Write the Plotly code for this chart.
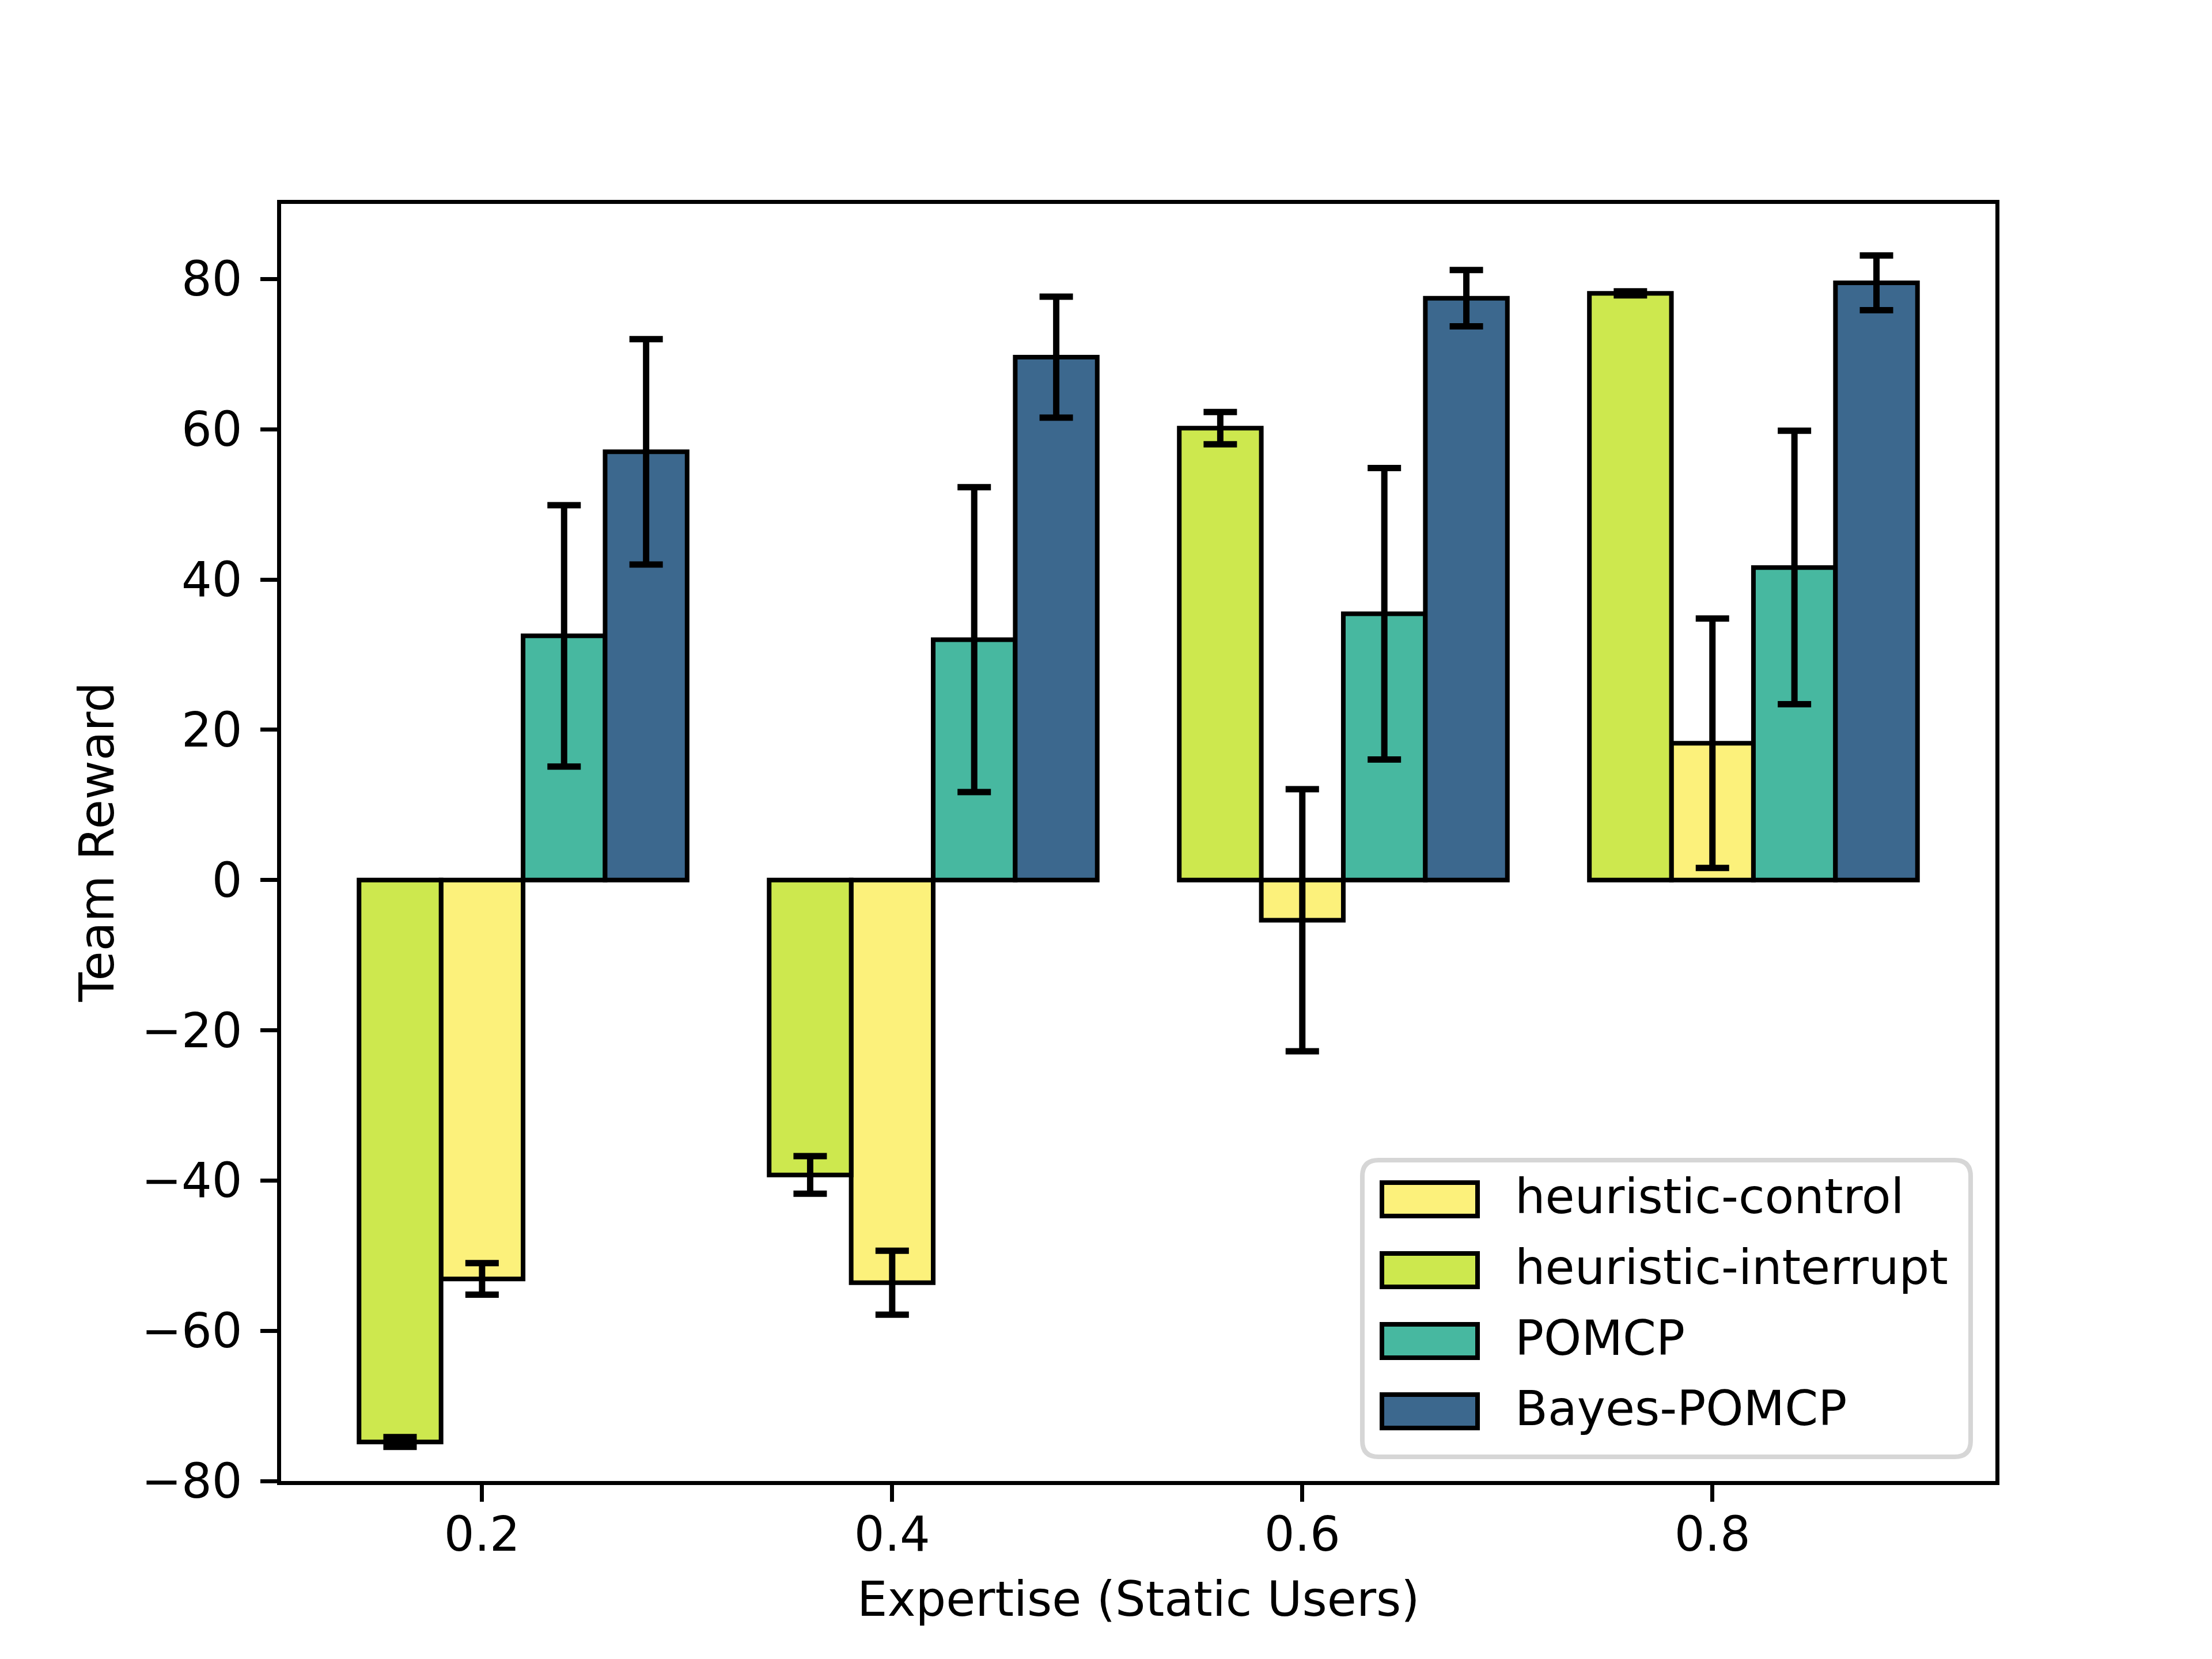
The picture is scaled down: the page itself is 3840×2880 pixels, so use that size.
import plotly.graph_objects as go

# ---------------- data ----------------
expertise = [0.2, 0.4, 0.6, 0.8]
x_tick_labels = ["0.2", "0.4", "0.6", "0.8"]
y_tick_vals = [-80, -60, -40, -20, 0, 20, 40, 60, 80]
y_tick_labels = ["\u221280", "\u221260", "\u221240", "\u221220", "0", "20", "40", "60", "80"]

series_names = ["heuristic-control", "heuristic-interrupt", "POMCP", "Bayes-POMCP"]

control_mean = [-53.1, -53.6, -5.35, 18.2]
control_err = [2.1, 4.26, 17.45, 16.6]
interrupt_mean = [-74.8, -39.26, 60.15, 78.1]
interrupt_err = [0.65, 2.5, 2.15, 0.27]
pomcp_mean = [32.5, 32.0, 35.45, 41.6]
pomcp_err = [17.4, 20.3, 19.4, 18.2]
bayes_mean = [57.0, 69.6, 77.45, 79.5]
bayes_err = [15.0, 8.05, 3.75, 3.64]

# ---------------- style ----------------
colors = ["#fcf17b", "#cde84e", "#47b8a0", "#3c688e"]
offsets = [0.0, -0.04, 0.04, 0.08]
bar_width = 0.04

means = [control_mean, interrupt_mean, pomcp_mean, bayes_mean]
errs = [control_err, interrupt_err, pomcp_err, bayes_err]

W, H = 3840, 2880
L, R, T, B = 480, 384, 346, 317
PW, PH = W - L - R, H - T - B
FS = 83
FONT = "DejaVu Sans"

def px(xp):
    return (xp - L) / PW

def py(yp):
    return (H - B - yp) / PH

fig = go.Figure()
for name, m, e, c, off in zip(series_names, means, errs, colors, offsets):
    fig.add_trace(go.Bar(
        x=[g + off for g in expertise],
        y=m,
        width=bar_width,
        name=name,
        marker=dict(color=c, line=dict(color="black", width=8)),
        error_y=dict(type="data", array=e, visible=True, color="black",
                     thickness=11, width=29),
        showlegend=False,
    ))

# ---------------- legend (drawn manually for matplotlib-like size) ----------------
shapes = []
annotations = []
lx0, ly0, lx1, ly1, rad = 2357, 2006, 3413, 2521, 28
rx, ry = rad / PW, rad / PH
X0, X1, Y0, Y1 = px(lx0), px(lx1), py(ly0), py(ly1)  # Y0 top, Y1 bottom
path = (f"M {X0+rx},{Y0} L {X1-rx},{Y0} Q {X1},{Y0} {X1},{Y0-ry} "
        f"L {X1},{Y1+ry} Q {X1},{Y1} {X1-rx},{Y1} "
        f"L {X0+rx},{Y1} Q {X0},{Y1} {X0},{Y1+ry} "
        f"L {X0},{Y0-ry} Q {X0},{Y0} {X0+rx},{Y0} Z")
shapes.append(dict(type="path", xref="paper", yref="paper", path=path,
                   fillcolor="rgba(255,255,255,0.8)",
                   line=dict(color="#d6d6d6", width=8), layer="above"))
row_centers = [2074, 2197, 2320, 2442]
for name, c, yc in zip(series_names, colors, row_centers):
    shapes.append(dict(type="rect", xref="paper", yref="paper",
                       x0=px(2391), x1=px(2557), y0=py(yc - 29), y1=py(yc + 29),
                       fillcolor=c, line=dict(color="black", width=8), layer="above"))
    annotations.append(dict(text=name, xref="paper", yref="paper",
                            x=px(2620), y=py(yc - 5), xanchor="left", yanchor="middle",
                            showarrow=False, font=dict(family=FONT, size=FS, color="black")))

# axis titles
annotations.append(dict(text="Expertise (Static Users)", xref="paper", yref="paper",
                        x=0.5, y=py(2768), xanchor="center", yanchor="middle",
                        showarrow=False, font=dict(family=FONT, size=FS, color="black")))
annotations.append(dict(text="Team Reward", xref="paper", yref="paper",
                        x=px(160), y=py(1454), xanchor="center", yanchor="middle",
                        textangle=-90, showarrow=False,
                        font=dict(family=FONT, size=FS, color="black")))

fig.update_layout(
    width=W, height=H,
    margin=dict(l=L, r=R, t=T, b=B, autoexpand=False),
    paper_bgcolor="white", plot_bgcolor="white",
    barmode="overlay",
    font=dict(family=FONT, size=FS, color="black"),
    shapes=shapes, annotations=annotations,
    showlegend=False,
)
fig.update_xaxes(
    range=[0.102, 0.938], tickvals=expertise, ticktext=x_tick_labels,
    showline=True, mirror=True, linecolor="black", linewidth=6.67,
    ticks="outside", ticklen=29, tickwidth=6.67, tickcolor="black",
    ticklabelstandoff=-14,
    showgrid=False, zeroline=False,
    tickfont=dict(family=FONT, size=FS, color="black"),
)
fig.update_yaxes(
    range=[-80, 90], tickvals=y_tick_vals, ticktext=y_tick_labels,
    showline=True, mirror=True, linecolor="black", linewidth=6.67,
    ticks="outside", ticklen=29, tickwidth=6.67, tickcolor="black",
    ticklabelstandoff=15,
    showgrid=False, zeroline=False,
    tickfont=dict(family=FONT, size=FS, color="black"),
)

fig.write_html("out.html")
